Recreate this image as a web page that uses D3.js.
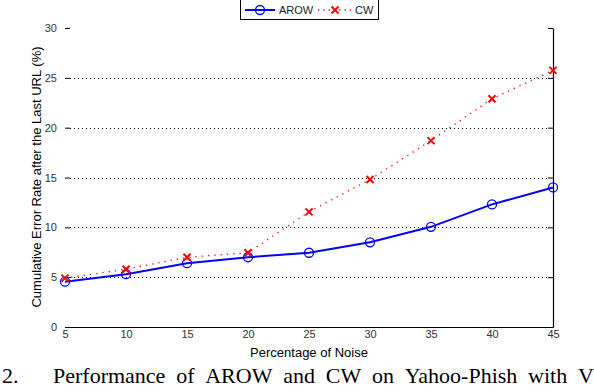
<!DOCTYPE html>
<html>
<head>
<meta charset="utf-8">
<script src="https://cdn.jsdelivr.net/npm/d3@7"></script>
<style>
  body { margin: 0; background: #fff; }
  svg { display: block; }
</style>
</head>
<body>
<div id="chart"></div>
<script>
// data
const noise = [5, 10, 15, 20, 25, 30, 35, 40, 45];
const arow = [4.55, 5.3, 6.4, 7.0, 7.45, 8.5, 10.05, 12.3, 14.0];
const cw = [4.9, 5.8, 7.0, 7.45, 11.55, 14.8, 18.7, 22.9, 25.75];
const yTicks = [0, 5, 10, 15, 20, 25, 30];
const xTicks = [5, 10, 15, 20, 25, 30, 35, 40, 45];
const captionWords = ['Performance', 'of', 'AROW', 'and', 'CW', 'on', 'Yahoo-Phish', 'with', 'V'];

const width = 594, height = 392;
const sans = 'Liberation Sans, Arial, sans-serif';

const svg = d3.select('#chart').append('svg')
    .attr('width', width)
    .attr('height', height);

const x = d3.scaleLinear().domain([5, 45]).range([65, 553]);
const y = d3.scaleLinear().domain([0, 30]).range([327, 28]);

// dotted grid lines
svg.append('g').selectAll('line')
    .data(yTicks.filter(d => d > 0 && d < 30))
    .join('line')
    .attr('x1', x(5) + 5).attr('x2', x(45) - 5)
    .attr('y1', d => Math.round(y(d)) + 0.5).attr('y2', d => Math.round(y(d)) + 0.5)
    .attr('stroke', '#000')
    .attr('stroke-width', 1)
    .attr('stroke-dasharray', '1,3');

// left ticks + labels (no axis line drawn, as in the picture)
const axisY = svg.append('g')
    .attr('transform', `translate(${x(5)},0)`)
    .call(d3.axisLeft(y).tickValues(yTicks).tickSize(-5).tickPadding(8));
axisY.select('.domain').remove();
axisY.selectAll('text').attr('font-family', sans).attr('font-size', 11).attr('fill', '#333');

// right axis line with inward ticks
const axisR = svg.append('g')
    .attr('transform', `translate(${x(45)},0)`)
    .call(d3.axisRight(y).tickValues(yTicks).tickSize(-5).tickSizeOuter(0).tickFormat(''));
axisR.select('.domain').attr('stroke-width', 1.2);

// bottom axis
const axisX = svg.append('g')
    .attr('transform', `translate(0,${y(0)})`)
    .call(d3.axisBottom(x).tickValues(xTicks).tickSize(0).tickPadding(3));
axisX.select('.domain').attr('stroke-width', 1.2);
axisX.selectAll('text').attr('font-family', sans).attr('font-size', 11).attr('fill', '#333');

// CW line: red dotted with x markers
const line = (vals) => d3.line().x((d, i) => x(noise[i])).y(d => y(d))(vals);

svg.append('path')
    .attr('d', line(cw))
    .attr('fill', 'none')
    .attr('stroke', '#ff0000')
    .attr('stroke-width', 1.3)
    .attr('stroke-dasharray', '1.3,5');

// AROW line: solid blue with open circles
svg.append('path')
    .attr('d', line(arow))
    .attr('fill', 'none')
    .attr('stroke', '#0000ff')
    .attr('stroke-width', 2);

svg.append('g').selectAll('circle')
    .data(arow)
    .join('circle')
    .attr('cx', (d, i) => x(noise[i]))
    .attr('cy', d => y(d))
    .attr('r', 4.5)
    .attr('fill', 'none')
    .attr('stroke', '#0000ff')
    .attr('stroke-width', 1.3);

const cross = (g, cx, cy, s) => g.append('path')
    .attr('d', `M${cx - s},${cy - s}L${cx + s},${cy + s}M${cx - s},${cy + s}L${cx + s},${cy - s}`)
    .attr('stroke', '#ff0000')
    .attr('stroke-width', 2)
    .attr('fill', 'none');

const marks = svg.append('g');
cw.forEach((d, i) => cross(marks, x(noise[i]), y(d), 3.5));

// legend
const legend = svg.append('g');
legend.append('rect')
    .attr('x', 240.5).attr('y', -5).attr('width', 138).attr('height', 24.5)
    .attr('fill', '#fff').attr('stroke', '#000').attr('stroke-width', 1);
legend.append('line')
    .attr('x1', 245).attr('x2', 275).attr('y1', 10).attr('y2', 10)
    .attr('stroke', '#0000ff').attr('stroke-width', 2);
legend.append('circle')
    .attr('cx', 260).attr('cy', 10).attr('r', 4.5)
    .attr('fill', 'none').attr('stroke', '#0000ff').attr('stroke-width', 1.3);
legend.append('text')
    .attr('x', 279).attr('y', 14)
    .attr('font-family', sans).attr('font-size', 11).attr('fill', '#222')
    .text('AROW');
legend.append('line')
    .attr('x1', 318).attr('x2', 351).attr('y1', 10).attr('y2', 10)
    .attr('stroke', '#ff0000').attr('stroke-width', 1.3).attr('stroke-dasharray', '1.3,4');
cross(legend, 335, 10, 3.5);
legend.append('text')
    .attr('x', 355).attr('y', 14)
    .attr('font-family', sans).attr('font-size', 11).attr('fill', '#222')
    .text('CW');

// axis titles
svg.append('text')
    .attr('x', 309).attr('y', 357)
    .attr('text-anchor', 'middle')
    .attr('font-family', sans).attr('font-size', 13).attr('fill', '#000')
    .text('Percentage of Noise');

svg.append('text')
    .attr('transform', 'translate(41,177)rotate(-90)')
    .attr('text-anchor', 'middle')
    .attr('font-family', sans).attr('font-size', 13).attr('fill', '#000')
    .text('Cumulative Error Rate after the Last URL (%)');

// caption, justified and cut off at the right edge like the original
const serif = 'Liberation Serif, Times New Roman, serif';
const cap = svg.append('g')
    .attr('font-family', serif).attr('font-size', 22).attr('fill', '#000');
cap.append('text').attr('x', 2).attr('y', 383).text('2.');
const words = cap.selectAll('text.w')
    .data(captionWords)
    .join('text')
    .classed('w', true)
    .attr('y', 383)
    .text(d => d);
// spread words so the first starts at 53 and the last at 578
const widths = words.nodes().map(n => n.getComputedTextLength());
const startX = 53, lastX = 578;
const used = d3.sum(widths.slice(0, -1));
const gap = (lastX - startX - used) / (captionWords.length - 1);
let cursor = startX;
words.attr('x', (d, i) => {
    const pos = cursor;
    cursor += widths[i] + gap;
    return pos;
});
</script>
</body>
</html>
